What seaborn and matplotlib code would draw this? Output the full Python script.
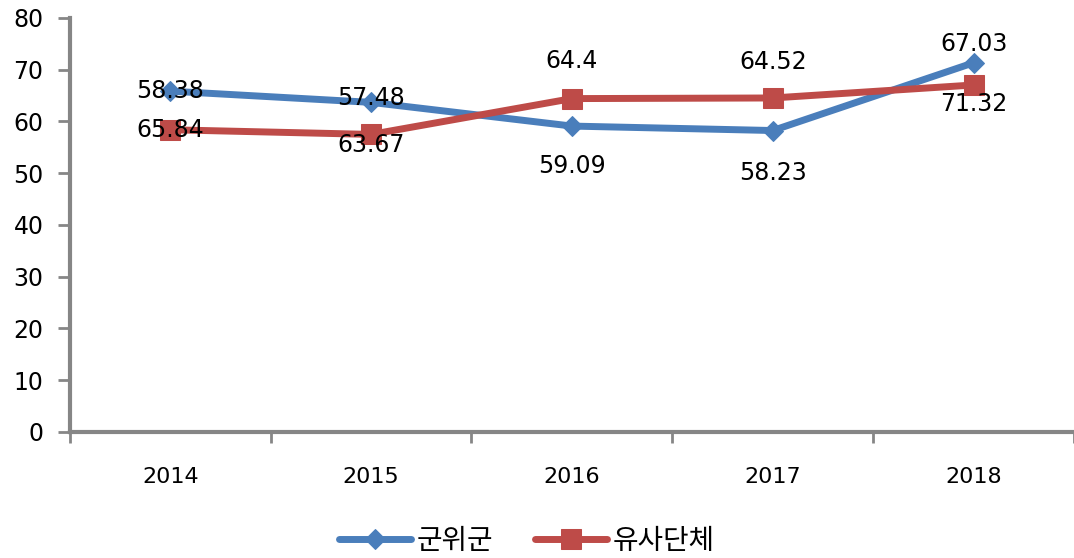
import numpy as np
import pandas as pd
import matplotlib
matplotlib.use("Agg")
import matplotlib.pyplot as plt
import seaborn as sns

years = ["2014", "2015", "2016", "2017", "2018"]
gunwi = [65.84, 63.67, 59.09, 58.23, 71.32]
yusa = [58.38, 57.48, 64.4, 64.52, 67.03]
# labels as printed in the source chart
gunwi_labels = ["58.38", "57.48", "59.09", "58.23", "67.03"]
yusa_labels = ["65.84", "63.67", "64.4", "64.52", "71.32"]
series_names = ["군위군", "유사단체"]

sns.set_style("white")
plt.rcParams['font.family'] = ['DejaVu Sans', 'Noto Sans CJK KR']
plt.rcParams['text.color'] = 'black'
plt.rcParams['xtick.color'] = 'black'
plt.rcParams['ytick.color'] = 'black'

fig = plt.figure(figsize=(10.74, 5.58), dpi=100)
ax = fig.add_axes([0.065, 0.226, 0.935, 0.742])

pos = np.arange(len(years))
blue = '#4A7EBB'
red = '#BE4B48'
sns.lineplot(x=pos, y=gunwi, ax=ax, color=blue, lw=5, marker='D', markersize=10,
             markeredgecolor=blue, label=series_names[0])
sns.lineplot(x=pos, y=yusa, ax=ax, color=red, lw=5, marker='s', markersize=14,
             markeredgecolor=red, label=series_names[1])

# label offsets in pixels (layout only)
blue_off = [0, 4, -40, -42, 19]
red_off = [0, -11, 38, 36, -19]
for i in range(len(years)):
    ax.annotate(gunwi_labels[i], (pos[i], gunwi[i]), xytext=(0, blue_off[i]),
                textcoords='offset pixels', ha='center', va='center', fontsize=17)
    ax.annotate(yusa_labels[i], (pos[i], yusa[i]), xytext=(0, red_off[i]),
                textcoords='offset pixels', ha='center', va='center', fontsize=17)

ax.set_xlim(-0.5, 4.5)
ax.set_ylim(0, 80)
ax.set_yticks(range(0, 81, 10))
ax.set_xticks(np.arange(-0.5, 5, 1))
ax.set_xticklabels([])
ax.set_xticks(pos, minor=True)
ax.set_xticklabels(years, minor=True, fontsize=16)
ax.tick_params(axis='x', which='minor', bottom=True, length=0, pad=25)
ax.tick_params(axis='x', which='major', bottom=True, length=8, width=2, color='#868686', direction='out')
ax.tick_params(axis='y', left=True, length=9, width=2, color='#868686', direction='out',
               labelsize=17, labelcolor='black', pad=10)

for s in ['top', 'right']:
    ax.spines[s].set_visible(False)
for s in ['left', 'bottom']:
    ax.spines[s].set_color('#868686')
    ax.spines[s].set_linewidth(3)

ax.legend(loc='center', bbox_to_anchor=(0.455, -0.263), ncol=2, frameon=False,
          fontsize=20, handlelength=2.6, columnspacing=1.5, handletextpad=0.2)

fig.savefig('out.png', dpi=100)
